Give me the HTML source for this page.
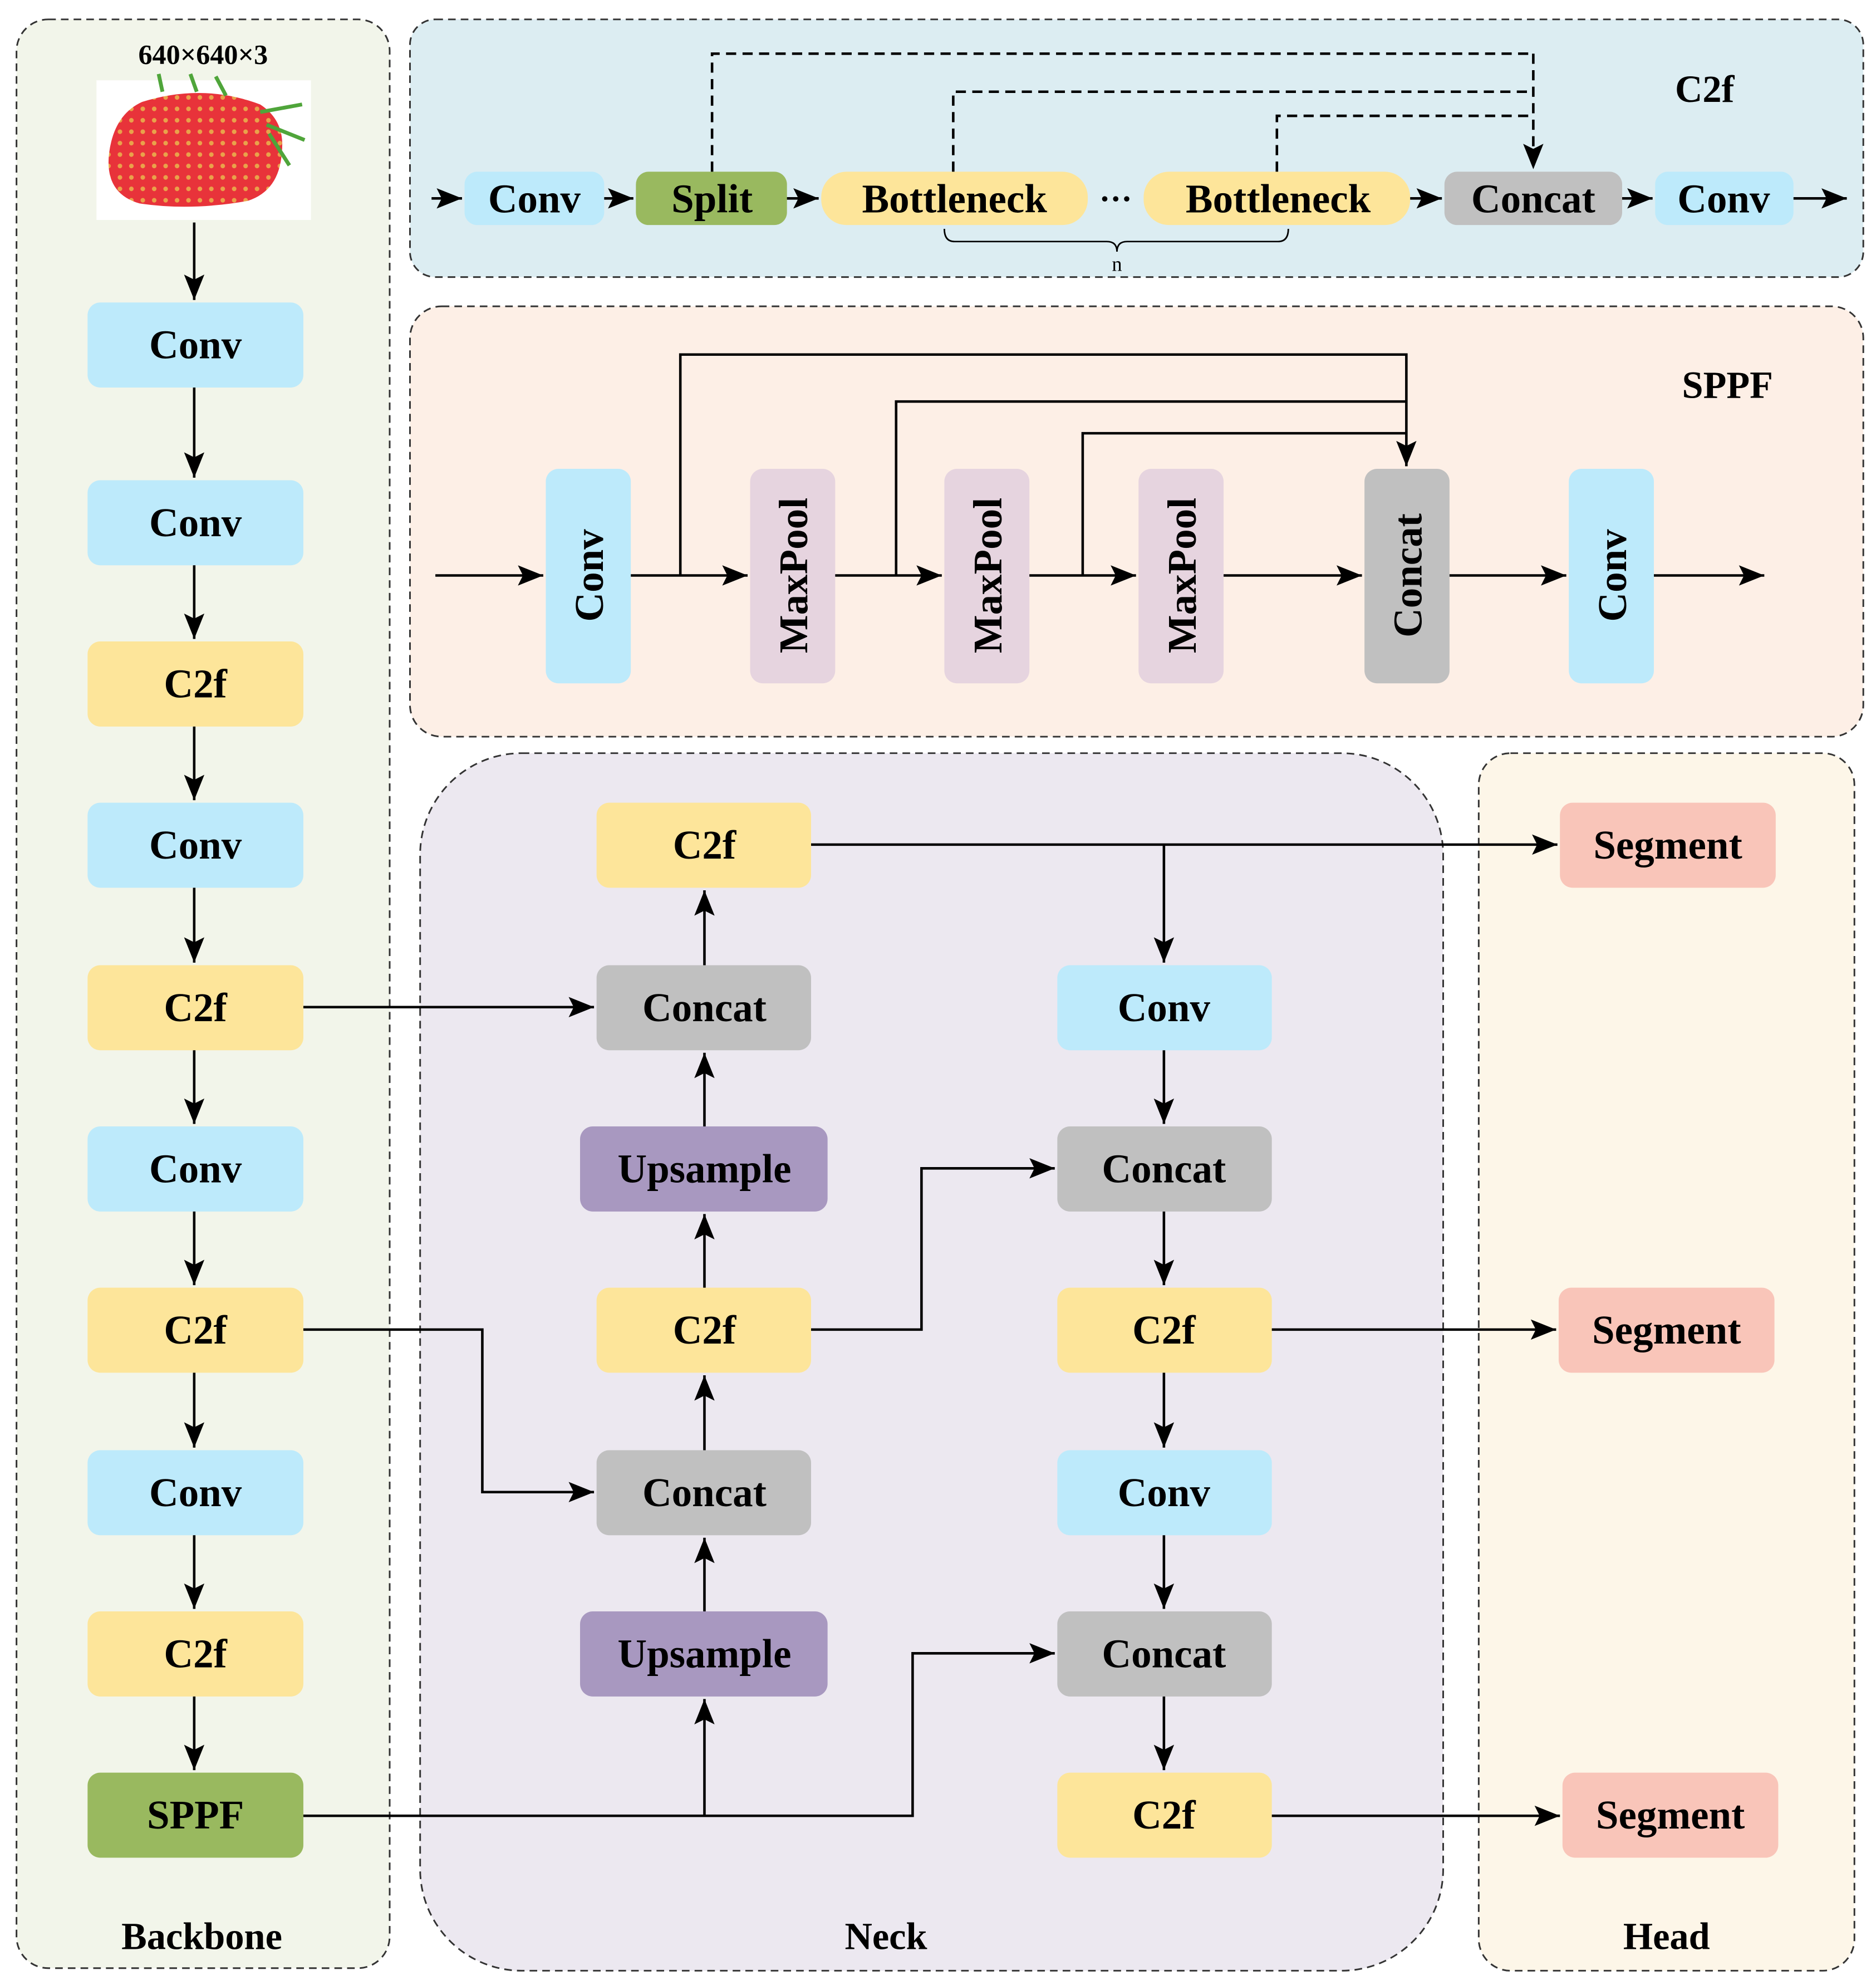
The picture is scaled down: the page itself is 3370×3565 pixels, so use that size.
<!DOCTYPE html>
<html><head><meta charset="utf-8"><style>
html,body{margin:0;padding:0;background:#fff}
svg{display:block}
text{font-family:"Liberation Serif",serif;font-weight:bold;fill:#000}
</style></head><body>
<svg width="3370" height="3565" viewBox="0 0 1478 1563" xmlns="http://www.w3.org/2000/svg">
<defs>
<marker id="a" markerWidth="10" markerHeight="10" refX="9" refY="5" orient="auto" markerUnits="userSpaceOnUse"><path d="M0,0 L10,5 L0,10 L2,5 z" fill="#000"/></marker>
<marker id="b" markerWidth="22" markerHeight="16" refX="20" refY="8" orient="auto" markerUnits="userSpaceOnUse"><path d="M0,0 L20,8 L0,16 L4,8 z" fill="#000"/></marker>
<pattern id="seeds" width="9" height="9" patternUnits="userSpaceOnUse"><rect width="9" height="9" fill="#e8333a"/><circle cx="4.5" cy="4.5" r="1.8" fill="#e9a24a"/></pattern>
</defs>
<g stroke="#333" stroke-width="1.3" stroke-dasharray="6,4">
<rect x="13" y="15" width="294" height="1535" rx="25" fill="#f2f5ea"/>
<rect x="323" y="15" width="1145" height="203" rx="20" fill="#dcedf2"/>
<rect x="323" y="241" width="1145" height="339" rx="25" fill="#fdefe6"/>
<rect x="331" y="593" width="806" height="959" rx="80" fill="#ece8f0"/>
<rect x="1165" y="593" width="296" height="959" rx="25" fill="#fdf6e8"/>
</g>
<text x="160" y="50" font-size="22" text-anchor="middle">640×640×3</text>
<rect x="76" y="63" width="169" height="110" fill="#fff"/>
<path d="M112,80 Q160,65 205,82 Q225,95 222,120 Q220,150 195,158 Q150,166 110,160 Q82,152 86,120 Q90,90 112,80z" fill="url(#seeds)"/>
<path d="M205,88 L238,82 M210,98 L240,110 M212,105 L228,130 M178,75 L170,60 M155,72 L150,58 M128,72 L125,58" stroke="#4fa53a" stroke-width="3"/>
<g font-size="32" text-anchor="middle">
<g id="bb">
<rect x="69" y="238" width="170" height="67" rx="10" fill="#bdeafb"/><text x="154" y="282">Conv</text>
<rect x="69" y="378" width="170" height="67" rx="10" fill="#bdeafb"/><text x="154" y="422">Conv</text>
<rect x="69" y="505" width="170" height="67" rx="10" fill="#fde59a"/><text x="154" y="549">C2f</text>
<rect x="69" y="632" width="170" height="67" rx="10" fill="#bdeafb"/><text x="154" y="676">Conv</text>
<rect x="69" y="760" width="170" height="67" rx="10" fill="#fde59a"/><text x="154" y="804">C2f</text>
<rect x="69" y="887" width="170" height="67" rx="10" fill="#bdeafb"/><text x="154" y="931">Conv</text>
<rect x="69" y="1014" width="170" height="67" rx="10" fill="#fde59a"/><text x="154" y="1058">C2f</text>
<rect x="69" y="1142" width="170" height="67" rx="10" fill="#bdeafb"/><text x="154" y="1186">Conv</text>
<rect x="69" y="1269" width="170" height="67" rx="10" fill="#fde59a"/><text x="154" y="1313">C2f</text>
<rect x="69" y="1396" width="170" height="67" rx="10" fill="#99b95f"/><text x="154" y="1440">SPPF</text>
</g>
<rect x="470" y="632" width="169" height="67" rx="10" fill="#fde59a"/><text x="555" y="676">C2f</text>
<rect x="470" y="760" width="169" height="67" rx="10" fill="#c0c0c0"/><text x="555" y="804">Concat</text>
<rect x="457" y="887" width="195" height="67" rx="10" fill="#a898c0"/><text x="555" y="931">Upsample</text>
<rect x="470" y="1014" width="169" height="67" rx="10" fill="#fde59a"/><text x="555" y="1058">C2f</text>
<rect x="470" y="1142" width="169" height="67" rx="10" fill="#c0c0c0"/><text x="555" y="1186">Concat</text>
<rect x="457" y="1269" width="195" height="67" rx="10" fill="#a898c0"/><text x="555" y="1313">Upsample</text>
<rect x="833" y="760" width="169" height="67" rx="10" fill="#bdeafb"/><text x="917" y="804">Conv</text>
<rect x="833" y="887" width="169" height="67" rx="10" fill="#c0c0c0"/><text x="917" y="931">Concat</text>
<rect x="833" y="1014" width="169" height="67" rx="10" fill="#fde59a"/><text x="917" y="1058">C2f</text>
<rect x="833" y="1142" width="169" height="67" rx="10" fill="#bdeafb"/><text x="917" y="1186">Conv</text>
<rect x="833" y="1269" width="169" height="67" rx="10" fill="#c0c0c0"/><text x="917" y="1313">Concat</text>
<rect x="833" y="1396" width="169" height="67" rx="10" fill="#fde59a"/><text x="917" y="1440">C2f</text>
<rect x="1229" y="632" width="170" height="67" rx="10" fill="#f9c5b9"/><text x="1314" y="676">Segment</text>
<rect x="1228" y="1014" width="170" height="67" rx="10" fill="#f9c5b9"/><text x="1313" y="1058">Segment</text>
<rect x="1231" y="1396" width="170" height="67" rx="10" fill="#f9c5b9"/><text x="1316" y="1440">Segment</text>
</g>
<g font-size="30" text-anchor="middle">
<text x="159" y="1535">Backbone</text><text x="698" y="1535">Neck</text><text x="1313" y="1535">Head</text>
<text x="1343" y="80">C2f</text><text x="1361" y="313">SPPF</text>
</g>
<!-- backbone arrows -->
<g stroke="#000" stroke-width="2" fill="none" marker-end="url(#b)">
<path d="M153,175 V236"/><path d="M153,305 V376"/><path d="M153,445 V503"/><path d="M153,572 V630"/><path d="M153,699 V758"/><path d="M153,827 V885"/><path d="M153,954 V1012"/><path d="M153,1081 V1140"/><path d="M153,1209 V1267"/><path d="M153,1336 V1394"/>
<path d="M239,793 H468"/>
<path d="M239,1047 H380 V1175 H468"/>
<path d="M239,1430 H719 V1302 H831"/>
<path d="M555,1430 V1338"/>
<path d="M555,1269 V1211"/><path d="M555,1142 V1083"/><path d="M555,1014 V956"/><path d="M555,887 V829"/><path d="M555,760 V701"/>
<path d="M639,1047 H726 V920 H831"/>
<path d="M639,665 H1227"/>
<path d="M917,665 V758"/><path d="M917,827 V885"/><path d="M917,954 V1012"/><path d="M917,1081 V1140"/><path d="M917,1209 V1267"/><path d="M917,1336 V1394"/>
<path d="M1002,1047 H1226"/><path d="M1002,1430 H1229"/>
</g>
<!-- C2f panel -->
<g font-size="32" text-anchor="middle">
<rect x="366" y="135" width="110" height="42" rx="10" fill="#bdeafb"/><text x="421" y="167">Conv</text>
<rect x="501" y="135" width="119" height="42" rx="10" fill="#99b95f"/><text x="561" y="167">Split</text>
<rect x="647" y="135" width="210" height="42" rx="20" fill="#fde59a"/><text x="752" y="167">Bottleneck</text>
<rect x="901" y="135" width="210" height="42" rx="20" fill="#fde59a"/><text x="1007" y="167">Bottleneck</text>
<rect x="1138" y="135" width="140" height="42" rx="10" fill="#c0c0c0"/><text x="1208" y="167">Concat</text>
<rect x="1304" y="135" width="109" height="42" rx="10" fill="#bdeafb"/><text x="1358" y="167">Conv</text>
<text x="879" y="165" font-size="26">···</text>
</g>
<g stroke="#000" stroke-width="2" fill="none" marker-end="url(#b)">
<path d="M340,156 H364"/><path d="M476,156 H499"/><path d="M620,156 H645"/><path d="M1111,156 H1136"/><path d="M1278,156 H1302"/><path d="M1413,156 H1455"/>
</g>
<g stroke="#000" stroke-width="2" fill="none" stroke-dasharray="8,5">
<path d="M561,135 V42 H1208"/><path d="M751,135 V72 H1208"/><path d="M1006,135 V91 H1208"/>
<path d="M1208,42 V133" marker-end="url(#b)"/>
</g>
<path d="M744,180 Q744,190 752,190 H872 Q880,190 880,198 Q880,190 888,190 H1007 Q1015,190 1015,180" stroke="#000" stroke-width="1.2" fill="none"/>
<text x="880" y="213" font-size="16" font-weight="normal" text-anchor="middle" style="font-weight:normal">n</text>
<!-- SPPF panel -->
<g>
<rect x="430" y="369" width="67" height="169" rx="10" fill="#bdeafb"/>
<rect x="591" y="369" width="67" height="169" rx="10" fill="#e6d4df"/>
<rect x="744" y="369" width="67" height="169" rx="10" fill="#e6d4df"/>
<rect x="897" y="369" width="67" height="169" rx="10" fill="#e6d4df"/>
<rect x="1075" y="369" width="67" height="169" rx="10" fill="#c0c0c0"/>
<rect x="1236" y="369" width="67" height="169" rx="10" fill="#bdeafb"/>
</g>
<g font-size="32" text-anchor="middle">
<text transform="translate(475,453) rotate(-90)">Conv</text>
<text transform="translate(636,453) rotate(-90)">MaxPool</text>
<text transform="translate(789,453) rotate(-90)">MaxPool</text>
<text transform="translate(942,453) rotate(-90)">MaxPool</text>
<text transform="translate(1120,453) rotate(-90)">Concat</text>
<text transform="translate(1281,453) rotate(-90)">Conv</text>
</g>
<g stroke="#000" stroke-width="2" fill="none">
<path d="M343,453 H428" marker-end="url(#b)"/><path d="M497,453 H589" marker-end="url(#b)"/><path d="M658,453 H742" marker-end="url(#b)"/><path d="M811,453 H895" marker-end="url(#b)"/><path d="M964,453 H1073" marker-end="url(#b)"/><path d="M1142,453 H1234" marker-end="url(#b)"/><path d="M1303,453 H1390" marker-end="url(#b)"/>
<path d="M536,453 V279 H1108 V367" marker-end="url(#b)"/>
<path d="M706,453 V316 H1108"/><path d="M853,453 V341 H1108"/>
</g>
</svg>
</body></html>
